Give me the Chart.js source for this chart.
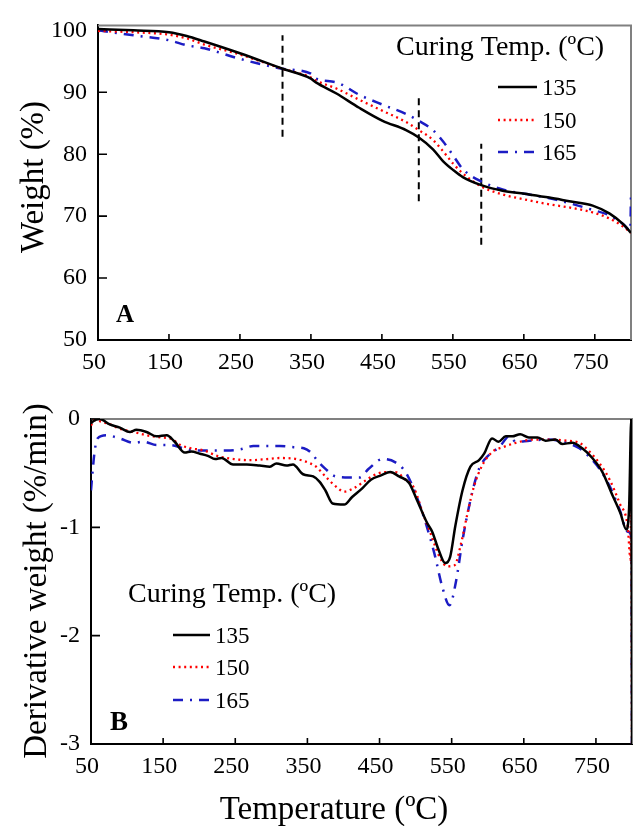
<!DOCTYPE html>
<html>
<head>
<meta charset="utf-8">
<script src="https://cdn.jsdelivr.net/npm/chart.js@4.4.1/dist/chart.umd.min.js"></script>
<style>
  html, body { margin: 0; padding: 0; background: #fff; }
  #wrap { position: relative; width: 636px; height: 826px; }
  canvas { position: absolute; left: 0; }
  #tg { top: 0; }
  #dtg { top: 380px; }
</style>
</head>
<body>
<div id="wrap">
  <canvas id="tg" width="636" height="380"></canvas>
  <canvas id="dtg" width="636" height="446"></canvas>
</div>
<script>
// ---- data ----
const seriesNames = ['135', '150', '165'];
const xTicks = [50, 150, 250, 350, 450, 550, 650, 750];
const tgTicks = [50, 60, 70, 80, 90, 100];
const dtgTicks = [-3, -2, -1, 0];

// A: weight (%) vs temperature
const tgTemp = [50, 100, 150, 175, 200, 250, 310, 350, 357, 386, 418, 451, 484, 502, 522, 536, 551, 564, 590, 620, 651, 686, 714, 747, 771, 790, 801];
const tgWeight135 = [100.2, 100.0, 99.7, 99.1, 98.2, 96.3, 93.8, 92.2, 91.6, 89.8, 87.5, 85.4, 83.9, 82.7, 80.8, 78.9, 77.4, 76.3, 75.0, 74.1, 73.6, 73.0, 72.4, 71.7, 70.4, 68.7, 67.3];
const tgWeight150 = [99.9, 99.7, 99.3, 98.7, 97.7, 96.1, 93.8, 92.4, 91.9, 90.6, 88.8, 87.0, 85.2, 83.9, 82.3, 80.5, 78.4, 76.9, 74.8, 73.5, 72.7, 71.9, 71.4, 70.6, 69.6, 68.3, 67.3];
const tgTemp165 = [50, 100, 150, 175, 200, 250, 310, 350, 357, 386, 418, 451, 484, 502, 522, 536, 551, 564, 590, 620, 651, 686, 714, 747, 771, 790, 800, 801];
const tgWeight165 = [100.0, 99.2, 98.4, 97.6, 97.1, 95.4, 93.8, 93.0, 92.2, 91.6, 89.6, 88.0, 86.5, 85.4, 83.9, 82.1, 79.7, 77.6, 75.6, 74.3, 73.6, 72.9, 72.1, 71.0, 70.1, 68.7, 67.7, 73.5];

// dashed step markers in A
const markTemp = [310, 502, 590];
const markHigh = [99.2, 89.1, 81.7];
const markLow = [82.8, 72.4, 65.4];

// B: derivative weight (%/min) vs temperature
const dtgTemp135 = [50, 53, 62, 76, 90, 104, 113, 127, 141, 155, 166, 180, 189, 201, 212, 222, 231, 247, 266, 284, 298, 307, 321, 330, 344, 358, 367, 375, 385, 401, 412, 426, 438, 452, 465, 477, 491, 502, 516, 523, 532, 541, 548, 555, 565, 576, 588, 595, 606, 615, 625, 634, 645, 657, 669, 680, 694, 703, 717, 731, 745, 759, 772, 784, 792, 796, 799, 800];
const dtgRate135 = [-0.04, -0.02, 0.0, -0.05, -0.08, -0.12, -0.10, -0.12, -0.16, -0.15, -0.21, -0.31, -0.30, -0.32, -0.34, -0.37, -0.36, -0.42, -0.42, -0.43, -0.44, -0.41, -0.43, -0.42, -0.51, -0.53, -0.58, -0.66, -0.78, -0.79, -0.72, -0.64, -0.56, -0.52, -0.49, -0.53, -0.59, -0.75, -0.96, -1.04, -1.21, -1.33, -1.27, -0.99, -0.66, -0.44, -0.38, -0.32, -0.18, -0.21, -0.16, -0.16, -0.14, -0.17, -0.17, -0.20, -0.19, -0.23, -0.22, -0.27, -0.36, -0.49, -0.69, -0.87, -1.02, -0.82, 0.0, -3.1];
const dtgTemp150 = [50, 55, 62, 76, 90, 109, 127, 146, 160, 174, 188, 206, 225, 248, 271, 294, 312, 335, 354, 362, 375, 389, 401, 414, 428, 442, 458, 472, 486, 498, 510, 521, 533, 544, 554, 563, 572, 581, 593, 607, 621, 639, 662, 685, 709, 727, 741, 755, 769, 783, 794, 798, 799, 800];
const dtgRate150 = [-0.06, -0.01, -0.02, -0.05, -0.09, -0.12, -0.15, -0.17, -0.18, -0.24, -0.27, -0.29, -0.34, -0.37, -0.38, -0.37, -0.36, -0.37, -0.41, -0.44, -0.53, -0.62, -0.67, -0.64, -0.58, -0.52, -0.49, -0.49, -0.56, -0.64, -0.87, -1.06, -1.27, -1.36, -1.35, -1.15, -0.87, -0.62, -0.42, -0.30, -0.26, -0.22, -0.19, -0.19, -0.20, -0.22, -0.30, -0.41, -0.56, -0.78, -0.99, -1.30, 0.0, -3.1];
const dtgTemp165 = [50, 52, 55, 59, 71, 90, 109, 123, 141, 160, 178, 197, 220, 238, 257, 275, 294, 312, 331, 345, 358, 362, 375, 389, 408, 422, 435, 454, 472, 486, 500, 514, 526, 537, 547, 556, 565, 577, 588, 602, 616, 630, 639, 658, 685, 709, 727, 741, 755, 769, 783, 794, 799.5, 800];
const dtgRate165 = [-0.66, -0.50, -0.30, -0.18, -0.15, -0.18, -0.22, -0.21, -0.24, -0.24, -0.27, -0.29, -0.29, -0.29, -0.28, -0.25, -0.25, -0.25, -0.26, -0.27, -0.33, -0.37, -0.46, -0.53, -0.54, -0.54, -0.46, -0.37, -0.40, -0.49, -0.69, -0.96, -1.24, -1.55, -1.72, -1.50, -1.12, -0.72, -0.46, -0.33, -0.26, -0.16, -0.21, -0.20, -0.19, -0.22, -0.27, -0.35, -0.46, -0.62, -0.84, -1.04, -1.10, -3.1];

// ---- styling ----
const serif = '"Liberation Serif", "Times New Roman", serif';
const lineStyles = [
  { borderColor: '#000000', borderWidth: 2.5, borderDash: [] },
  { borderColor: '#ff0000', borderWidth: 2.3, borderDash: [2, 3.6] },
  { borderColor: '#1c1cc4', borderWidth: 2.5, borderDash: [10, 7, 2, 7] }
];

const zip = (xs, ys) => xs.map((x, i) => ({ x, y: ys[i] }));

function series(i, xs, ys) {
  return Object.assign({
    label: seriesNames[i],
    data: zip(xs, ys),
    pointRadius: 0,
    fill: false,
    cubicInterpolationMode: 'monotone',
    borderCapStyle: 'butt'
  }, lineStyles[i]);
}

function markLine(i) {
  return {
    label: 'mark' + i,
    data: [{ x: markTemp[i], y: markLow[i] }, { x: markTemp[i], y: markHigh[i] }],
    borderColor: '#000',
    borderWidth: 2,
    borderDash: [7, 5],
    pointRadius: 0
  };
}

function xScale(max, height) {
  return {
    type: 'linear', min: 50, max,
    afterBuildTicks: s => { s.ticks = xTicks.map(v => ({ value: v })); },
    afterFit: s => { s.height = height; },
    grid: { display: false, drawTicks: false },
    border: { color: '#000', width: 2 },
    ticks: { font: { family: serif, size: 24 }, color: '#000', padding: 8, labelOffset: -4, autoSkip: false, maxRotation: 0 }
  };
}

function yScale(min, max, ticks, width) {
  return {
    type: 'linear', min, max,
    afterBuildTicks: s => { s.ticks = ticks.map(v => ({ value: v })); },
    afterFit: s => { s.width = width; },
    grid: { display: false, drawTicks: false },
    border: { color: '#000', width: 2 },
    ticks: { font: { family: serif, size: 24 }, color: '#000', padding: 11 }
  };
}

// frame, inward ticks, titles, legend, panel letter
const decor = {
  id: 'decor',
  beforeDatasetsDraw(chart) {
    const { ctx, chartArea: a, scales: { x, y } } = chart;
    ctx.save();
    ctx.strokeStyle = '#808080';
    ctx.lineWidth = 2;
    ctx.beginPath();
    ctx.moveTo(a.left, a.top);
    ctx.lineTo(a.right, a.top);
    ctx.lineTo(a.right, a.bottom);
    ctx.stroke();
    ctx.strokeStyle = '#000';
    ctx.lineWidth = 1.6;
    ctx.beginPath();
    x.ticks.forEach(t => {
      const px = x.getPixelForValue(t.value);
      ctx.moveTo(px, a.bottom);
      ctx.lineTo(px, a.bottom - 6);
    });
    y.ticks.forEach(t => {
      const py = y.getPixelForValue(t.value);
      ctx.moveTo(a.left, py);
      ctx.lineTo(a.left + 9, py);
    });
    ctx.stroke();
    ctx.restore();
  },
  afterDraw(chart, args, o) {
    const ctx = chart.ctx;
    ctx.save();
    ctx.fillStyle = '#000';
    ctx.textBaseline = 'alphabetic';

    if (o.yTitle) {
      ctx.save();
      ctx.font = '33px ' + serif;
      ctx.textAlign = 'center';
      ctx.translate(o.yTitle.x, o.yTitle.y);
      ctx.rotate(-Math.PI / 2);
      ctx.fillText(o.yTitle.text, 0, 0);
      ctx.restore();
    }
    if (o.xTitle) {
      ctx.font = '33px ' + serif;
      ctx.textAlign = 'center';
      ctx.fillText(o.xTitle.text, o.xTitle.x, o.xTitle.y);
    }
    if (o.letter) {
      ctx.font = 'bold ' + o.letter.size + 'px ' + serif;
      ctx.textAlign = 'left';
      ctx.fillText(o.letter.text, o.letter.x, o.letter.y);
    }
    if (o.legend) {
      const L = o.legend;
      ctx.font = '28px ' + serif;
      ctx.textAlign = 'left';
      ctx.fillText('Curing Temp. (ºC)', L.x, L.titleBase);
      ctx.font = '23px ' + serif;
      seriesNames.forEach((name, i) => {
        const ds = chart.data.datasets[i];
        const yy = L.rows[i];
        ctx.save();
        ctx.strokeStyle = ds.borderColor;
        ctx.lineWidth = ds.borderWidth;
        ctx.setLineDash(ds.borderDash);
        ctx.beginPath();
        ctx.moveTo(L.lineLeft, yy);
        ctx.lineTo(L.lineRight, yy);
        ctx.stroke();
        ctx.restore();
        ctx.fillText(name, L.textLeft, yy + 7.6);
      });
    }
    ctx.restore();
  }
};

const common = {
  responsive: false,
  animation: false,
  events: []
};

new Chart(document.getElementById('tg'), {
  type: 'line',
  data: {
    datasets: [
      series(0, tgTemp, tgWeight135),
      series(1, tgTemp, tgWeight150),
      series(2, tgTemp165, tgWeight165),
      markLine(0), markLine(1), markLine(2)
    ]
  },
  options: Object.assign({}, common, {
    layout: { padding: { top: 14, right: 5, left: 0, bottom: 0 } },
    plugins: {
      legend: { display: false },
      tooltip: { enabled: false },
      decor: {
        yTitle: { text: 'Weight (%)', x: 43, y: 177 },
        letter: { text: 'A', x: 116, y: 322, size: 25 },
        legend: { x: 396, titleBase: 55, lineLeft: 498, lineRight: 537, textLeft: 542, rows: [87, 120, 152] }
      }
    },
    scales: {
      x: xScale(801, 40),
      y: yScale(50, 100.8, tgTicks, 98)
    }
  }),
  plugins: [decor]
});

new Chart(document.getElementById('dtg'), {
  type: 'line',
  data: {
    datasets: [
      series(0, dtgTemp135, dtgRate135),
      series(1, dtgTemp150, dtgRate150),
      series(2, dtgTemp165, dtgRate165)
    ]
  },
  options: Object.assign({}, common, {
    layout: { padding: { top: 39, right: 4, left: 0, bottom: 0 } },
    plugins: {
      legend: { display: false },
      tooltip: { enabled: false },
      decor: {
        yTitle: { text: 'Derivative weight (%/min)', x: 46, y: 201 },
        xTitle: { text: 'Temperature (ºC)', x: 334, y: 439 },
        letter: { text: 'B', x: 110, y: 350, size: 27 },
        legend: { x: 128, titleBase: 222, lineLeft: 173, lineRight: 210, textLeft: 215, rows: [255, 287, 320] }
      }
    },
    scales: {
      x: xScale(800, 82),
      y: yScale(-3, 0, dtgTicks, 91)
    }
  }),
  plugins: [decor]
});
</script>
</body>
</html>
